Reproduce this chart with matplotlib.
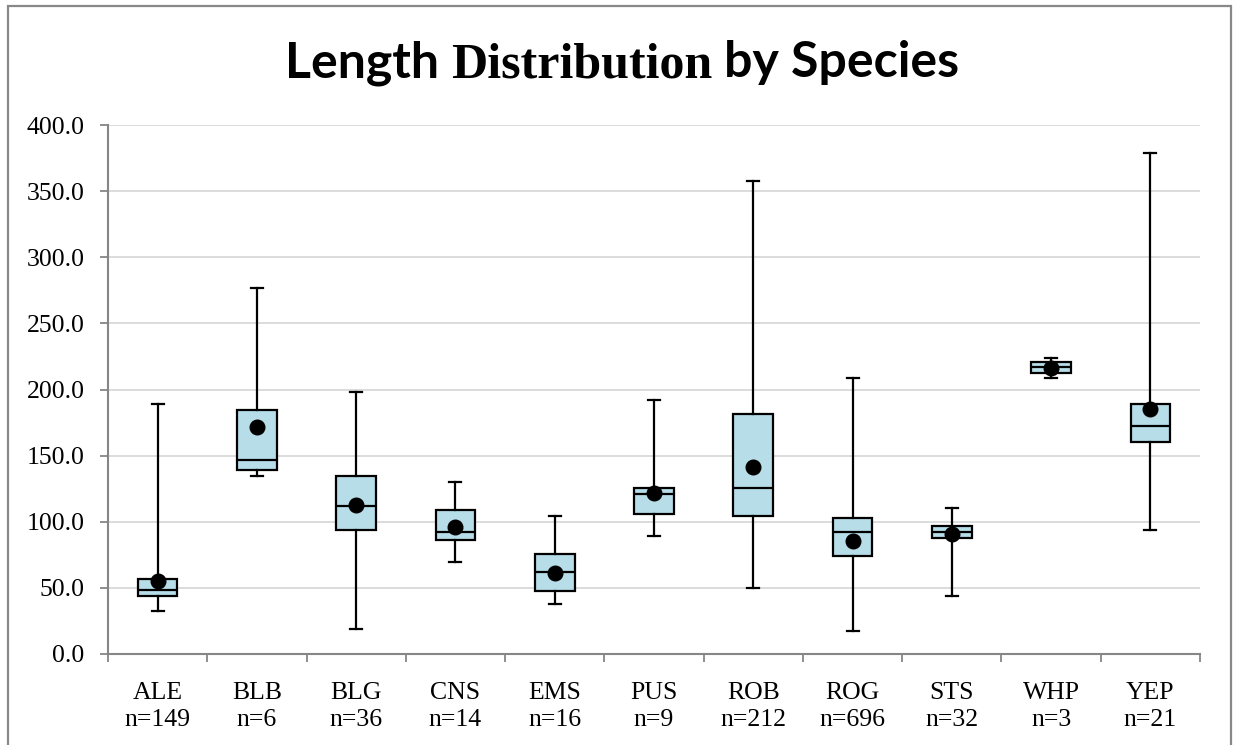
import matplotlib
matplotlib.use("Agg")
import matplotlib.pyplot as plt
from matplotlib.patches import Rectangle
from matplotlib.ticker import FormatStrFormatter, FixedLocator

# per-species length summary
species = ["ALE", "BLB", "BLG", "CNS", "EMS", "PUS", "ROB", "ROG", "STS", "WHP", "YEP"]
counts = [149, 6, 36, 14, 16, 9, 212, 696, 32, 3, 21]
minimum = [32.3, 134.6, 18.6, 69.8, 38.1, 89.5, 50.2, 17.1, 44.1, 208.4, 93.8]
q1 = [44.1, 139.1, 93.8, 86.5, 47.4, 106.1, 104.6, 74.3, 87.9, 212.7, 160.3]
median = [48.4, 146.7, 112.2, 92.2, 62.3, 121.2, 125.8, 92.5, 92.5, 217.0, 172.1]
q3 = [56.5, 184.5, 134.8, 109.1, 75.9, 125.5, 181.5, 103.1, 97.0, 221.0, 189.0]
maximum = [189.0, 276.5, 198.1, 130.1, 104.3, 192.1, 357.9, 208.4, 110.6, 223.6, 379.1]
means = [55.5, 171.9, 112.7, 96.3, 61.5, 122.0, 141.4, 85.7, 90.5, 216.5, 185.0]

W, H = 1233, 745
fig = plt.figure(figsize=(W / 100, H / 100), dpi=100)
ax = fig.add_axes([108 / W, 1 - 654 / H, (1200 - 108) / W, (654 - 125) / H])

stats = [
    dict(label=f"{s}\nn={n}", whislo=lo, q1=a, med=m, q3=b, whishi=hi, mean=mu, fliers=[])
    for s, n, lo, a, m, b, hi, mu in zip(species, counts, minimum, q1, median, q3, maximum, means)
]
pos = list(range(len(species)))
ax.bxp(
    stats, positions=pos, widths=0.4, patch_artist=True, showmeans=True,
    boxprops=dict(facecolor="#b7dde8", edgecolor="black", linewidth=1.6),
    medianprops=dict(color="black", linewidth=1.6),
    whiskerprops=dict(color="black", linewidth=1.6),
    capprops=dict(color="black", linewidth=1.6),
    capwidths=0.12,
    meanprops=dict(marker="o", markerfacecolor="black", markeredgecolor="black", markersize=10.5),
    zorder=3,
)

ax.set_xlim(-0.5, len(species) - 0.5)
ax.set_ylim(0, 400)
ax.set_yticks(range(0, 401, 50))
ax.yaxis.set_major_formatter(FormatStrFormatter("%.1f"))
ax.grid(axis="y", color="#d9d9d9", linewidth=1.3, zorder=0)
ax.set_axisbelow(True)

ax.xaxis.set_minor_locator(FixedLocator([p - 0.5 for p in pos] + [pos[-1] + 0.5]))
ax.tick_params(axis="x", which="major", length=0, pad=20)
ax.tick_params(axis="x", which="minor", length=6, width=1.3, color="#868686", direction="out")
ax.tick_params(axis="y", length=6, width=1.3, color="#868686", pad=11)
for lbl in ax.get_xticklabels() + ax.get_yticklabels():
    lbl.set_fontfamily("Liberation Serif")
    lbl.set_fontsize(18.5)
for lbl in ax.get_xticklabels():
    lbl.set_linespacing(1.3)

for side in ("top", "right"):
    ax.spines[side].set_visible(False)
for side in ("left", "bottom"):
    ax.spines[side].set_color("#868686")
    ax.spines[side].set_linewidth(1.5)

# outer chart frame
fig.patches.append(Rectangle((8 / W, -0.02), (1231 - 8) / W, 1.02 - 6 / H,
                             transform=fig.transFigure, fill=False,
                             edgecolor="#888888", linewidth=1.6))

# title: middle word set in a serif face
parts = [("Length ", "Lato"), ("Distribution", "Liberation Serif"), (" by Species", "Lato")]
renderer = fig.canvas.get_renderer()
texts = []
for word, fam in parts:
    t = fig.text(0, 1 - 77 / H, word, fontsize=36, fontweight="bold", family=fam, va="baseline")
    texts.append(t)
widths = [t.get_window_extent(renderer).width for t in texts]
x = 622 - sum(widths) / 2
for t, w in zip(texts, widths):
    t.set_x(x / W)
    x += w

fig.savefig("out.png", dpi=100)
